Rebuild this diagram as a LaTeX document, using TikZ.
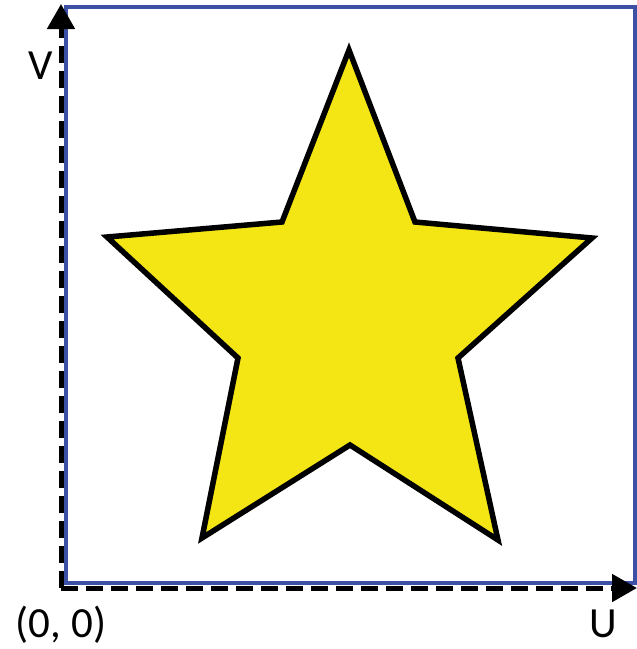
\documentclass[tikz,border=0pt]{standalone}
\usepackage{fontspec}
\setmainfont{Carlito}
\usetikzlibrary{arrows.meta}
\definecolor{staryellow}{RGB}{243,230,20}
\definecolor{frameblue}{RGB}{60,80,165}
\tikzset{
  axis/.style={line width=5pt, dash pattern=on 17pt off 8pt, -{Triangle[length=25pt,width=27pt]}},
  frame/.style={draw=frameblue, line width=4.5pt},
  starshape/.style={fill=staryellow, draw=black, line width=5.5pt, line join=miter},
  lbl/.style={inner sep=0pt, font=\fontsize{43}{50}\selectfont}
}
\begin{document}
\begin{tikzpicture}[x=1pt,y=-1pt]
\useasboundingbox (0,0) rectangle (637,649);
\fill[white] (0,0) rectangle (637,649);
% frame
\draw[frame] (66,7) rectangle (635,583);
% star
\draw[starshape] (349,50) -- (415,222) -- (592,238) -- (458,358) -- (498,540)
  -- (350,445) -- (202,538) -- (238,358) -- (107,237) -- (282,222) -- cycle;
% axes
\coordinate (o) at (61,588);
\coordinate (vtip) at (61,4);
\coordinate (utip) at (637,588);
\draw[axis] (o) -- (vtip);
\draw[axis] (o) -- (utip);
% labels
\node[lbl] (vl) at (41,66) {V};
\node[lbl] (ol) at (61,625) {(0, 0)};
\node[lbl] (ul) at (603,624) {U};
\end{tikzpicture}
\end{document}
